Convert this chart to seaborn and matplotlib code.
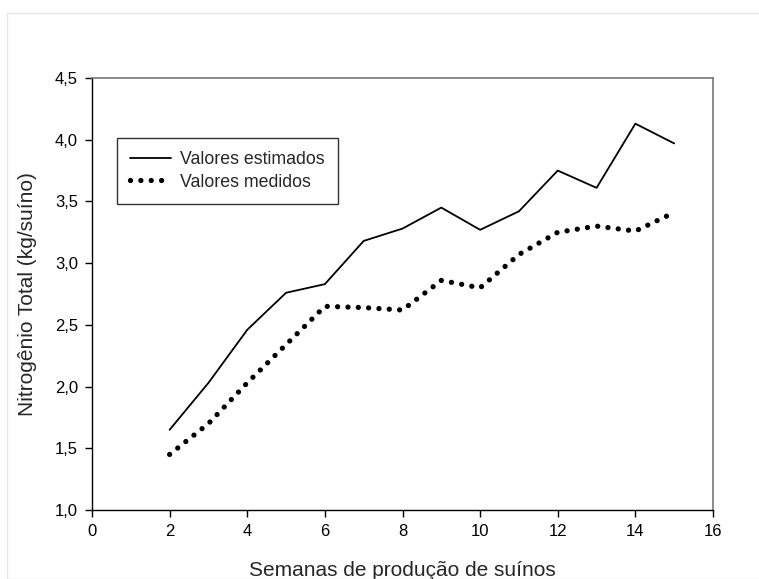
import numpy as np
import pandas as pd
import matplotlib
matplotlib.use('Agg')
import matplotlib.pyplot as plt
import matplotlib.patches as mpatches
import seaborn as sns

# Data
semanas = [2, 3, 4, 5, 6, 7, 8, 9, 10, 11, 12, 13, 14, 15]
estimados = [1.65, 2.03, 2.46, 2.76, 2.83, 3.18, 3.28, 3.45, 3.27, 3.42, 3.75, 3.61, 4.13, 3.97]
medidos = [1.45, 1.70, 2.03, 2.34, 2.65, 2.64, 2.62, 2.86, 2.80, 3.07, 3.25, 3.30, 3.26, 3.41]

df = pd.DataFrame({
    'Semana': semanas * 2,
    'N': estimados + medidos,
    'Serie': ['Valores estimados'] * len(semanas) + ['Valores medidos'] * len(semanas),
})

sns.set_style('ticks')
plt.rcParams['font.family'] = ['Liberation Sans', 'DejaVu Sans']

fig = plt.figure(figsize=(7.59, 5.79), dpi=100)
ax = fig.add_axes([92 / 759, 1 - 510 / 579, (713 - 92) / 759, (510 - 78) / 579])

# light frame around the figure
fig.patches.append(mpatches.Rectangle((7 / 759, 0), 1, 1 - 13 / 579, transform=fig.transFigure,
                                      fill=False, edgecolor='#e6e6e6', linewidth=1))

sns.lineplot(data=df[df['Serie'] == 'Valores estimados'], x='Semana', y='N', ax=ax,
             color='black', linewidth=1.3, label='Valores estimados')
sns.lineplot(data=df[df['Serie'] == 'Valores medidos'], x='Semana', y='N', ax=ax,
             color='black', linewidth=3.8, label='Valores medidos',
             dashes=False)
dotted = ax.get_lines()[1]
dotted.set_linestyle((0, (0.01, 1.95)))
dotted.set_dash_capstyle('round')

ax.set_xlim(0, 16)
ax.set_ylim(1.0, 4.5)
ax.set_xticks(np.arange(0, 17, 2))
ax.set_yticks(np.arange(1.0, 4.51, 0.5))
ax.set_yticklabels([f'{v:.1f}'.replace('.', ',') for v in np.arange(1.0, 4.51, 0.5)])
ax.tick_params(direction='out', length=5, width=1, labelsize=12, colors='black', pad=5)

ax.set_xlabel('Semanas de produção de suínos', fontsize=15, labelpad=16)
ax.set_ylabel('Nitrogênio Total (kg/suíno)', fontsize=15, labelpad=13)

for s in ['left', 'bottom']:
    ax.spines[s].set_color('black')
    ax.spines[s].set_linewidth(1)
for s in ['top', 'right']:
    ax.spines[s].set_visible(True)
    ax.spines[s].set_color('#777777')
    ax.spines[s].set_linewidth(1.2)

leg = ax.legend(loc='upper left', bbox_to_anchor=(25 / 621, 1 - 60 / 432), fontsize=12.8,
                frameon=True, fancybox=False, edgecolor='black', handlelength=2.3,
                borderpad=0.75, borderaxespad=0, labelspacing=0.3, handletextpad=0.5)
leg.get_frame().set_linewidth(1)
for h in leg.get_lines():
    if h.get_label() == 'Valores medidos':
        h.set_linestyle((0, (0.01, 1.95)))
        h.set_dash_capstyle('round')

fig.savefig('out.png', dpi=100)
